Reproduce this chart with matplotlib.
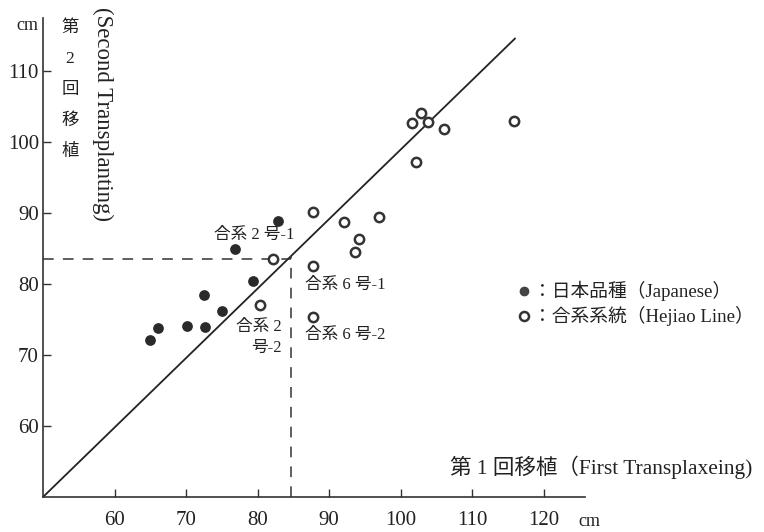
import matplotlib

matplotlib.use("Agg")
import matplotlib.pyplot as plt

plt.rcParams["font.family"] = ["Liberation Serif", "Noto Sans CJK JP"]

# Japanese varieties (filled dots)
jp_first = [64.9, 66.1, 70.1, 72.7, 72.5, 75.0, 79.4, 76.8, 82.8]
jp_second = [72.1, 73.8, 74.1, 73.9, 78.4, 76.2, 80.4, 84.9, 88.9]

# Hejiao lines (open circles)
hj_first = [82.2, 80.4, 87.7, 92.1, 97.0, 94.2, 93.7, 87.8, 87.8,
            102.9, 101.6, 103.9, 106.1, 102.2, 115.9]
hj_second = [83.6, 77.1, 90.1, 88.7, 89.5, 86.4, 84.5, 82.5, 75.4,
             104.1, 102.7, 102.9, 101.9, 97.2, 103.0]

# reference line and the dashed guide
line_x = [50, 116.0]
line_y = [50, 114.6]
guide_x = 84.7
guide_y = 83.5

xticks = [60, 70, 80, 90, 100, 110, 120]
yticks = [60, 70, 80, 90, 100, 110]

ylabel_jp = ["第", "2", "回", "移", "植"]

W, H = 764, 532
fig = plt.figure(figsize=(W / 100, H / 100), dpi=100)
ax = fig.add_axes([43 / W, 35 / H, 542 / W, 479 / H])
ax.set_xlim(50, 125.8)
ax.set_ylim(50, 117.5)
for s in ("top", "right"):
    ax.spines[s].set_visible(False)
for s in ("left", "bottom"):
    ax.spines[s].set_color("#333333")
    ax.spines[s].set_linewidth(1.2)

ax.set_xticks(xticks)
ax.set_yticks(yticks)
ax.tick_params(direction="in", length=6, width=1, colors="#333333",
               labelsize=15, labelcolor="#222222")
ax.tick_params(axis="x", pad=10)
ax.tick_params(axis="y", pad=3)

ax.plot(line_x, line_y, color="#222222", lw=1.3)
ax.plot([50, guide_x], [guide_y, guide_y], color="#333333", lw=1.1,
        dashes=(7, 6))
ax.plot([guide_x, guide_x], [50, guide_y + 0.4], color="#333333", lw=1.1,
        dashes=(7, 6))

ax.scatter(jp_first, jp_second, s=45, color="#2a2a2a", zorder=3)
ax.scatter(hj_first, hj_second, s=45, facecolor="white",
           edgecolor="#333333", linewidths=1.8, zorder=3)

lab = dict(fontsize=12, color="#222222")
ax.text(79.6, 86.9, "合系 2 号-1", ha="center", va="center", **lab)
ax.text(83.4, 73.9, "合系 2", ha="right", va="center", **lab)
ax.text(83.4, 71.0, "号-2", ha="right", va="center", **lab)
ax.text(86.6, 79.9, "合系 6 号-1", ha="left", va="center", **lab)
ax.text(86.6, 72.8, "合系 6 号-2", ha="left", va="center", **lab)


def ftext(x, y, s, **kw):
    fig.text(x / W, 1 - y / H, s, **kw)


ftext(27, 26, "cm", ha="center", va="center", fontsize=13, color="#222222")
ftext(589, 521, "cm", ha="center", va="center", fontsize=13, color="#222222")
for i, ch in enumerate(ylabel_jp):
    ftext(70, 28 + i * 31, ch, ha="center", va="center", fontsize=12.5,
          color="#222222")
ftext(103, 114, "(Second Transplanting)", ha="center", va="center",
      rotation=270, fontsize=16.5, color="#222222")
ftext(752, 467, "第 1 回移植（First Transplaxeing)", ha="right", va="center",
      fontsize=15.5, color="#222222")

# legend drawn by hand
fig.lines.append(plt.Line2D([524 / W], [1 - 291 / H], marker="o", ms=6,
                            color="#444444", transform=fig.transFigure))
fig.lines.append(plt.Line2D([524 / W], [1 - 316 / H], marker="o", ms=6.5,
                            mfc="white", mec="#333333", mew=1.8,
                            transform=fig.transFigure))
ftext(533, 291, "：日本品種（Japanese）", ha="left", va="center",
      fontsize=13.5, color="#222222")
ftext(533, 316, "：合系系統（Hejiao Line）", ha="left", va="center",
      fontsize=13.5, color="#222222")

fig.savefig("out.png", dpi=100)
